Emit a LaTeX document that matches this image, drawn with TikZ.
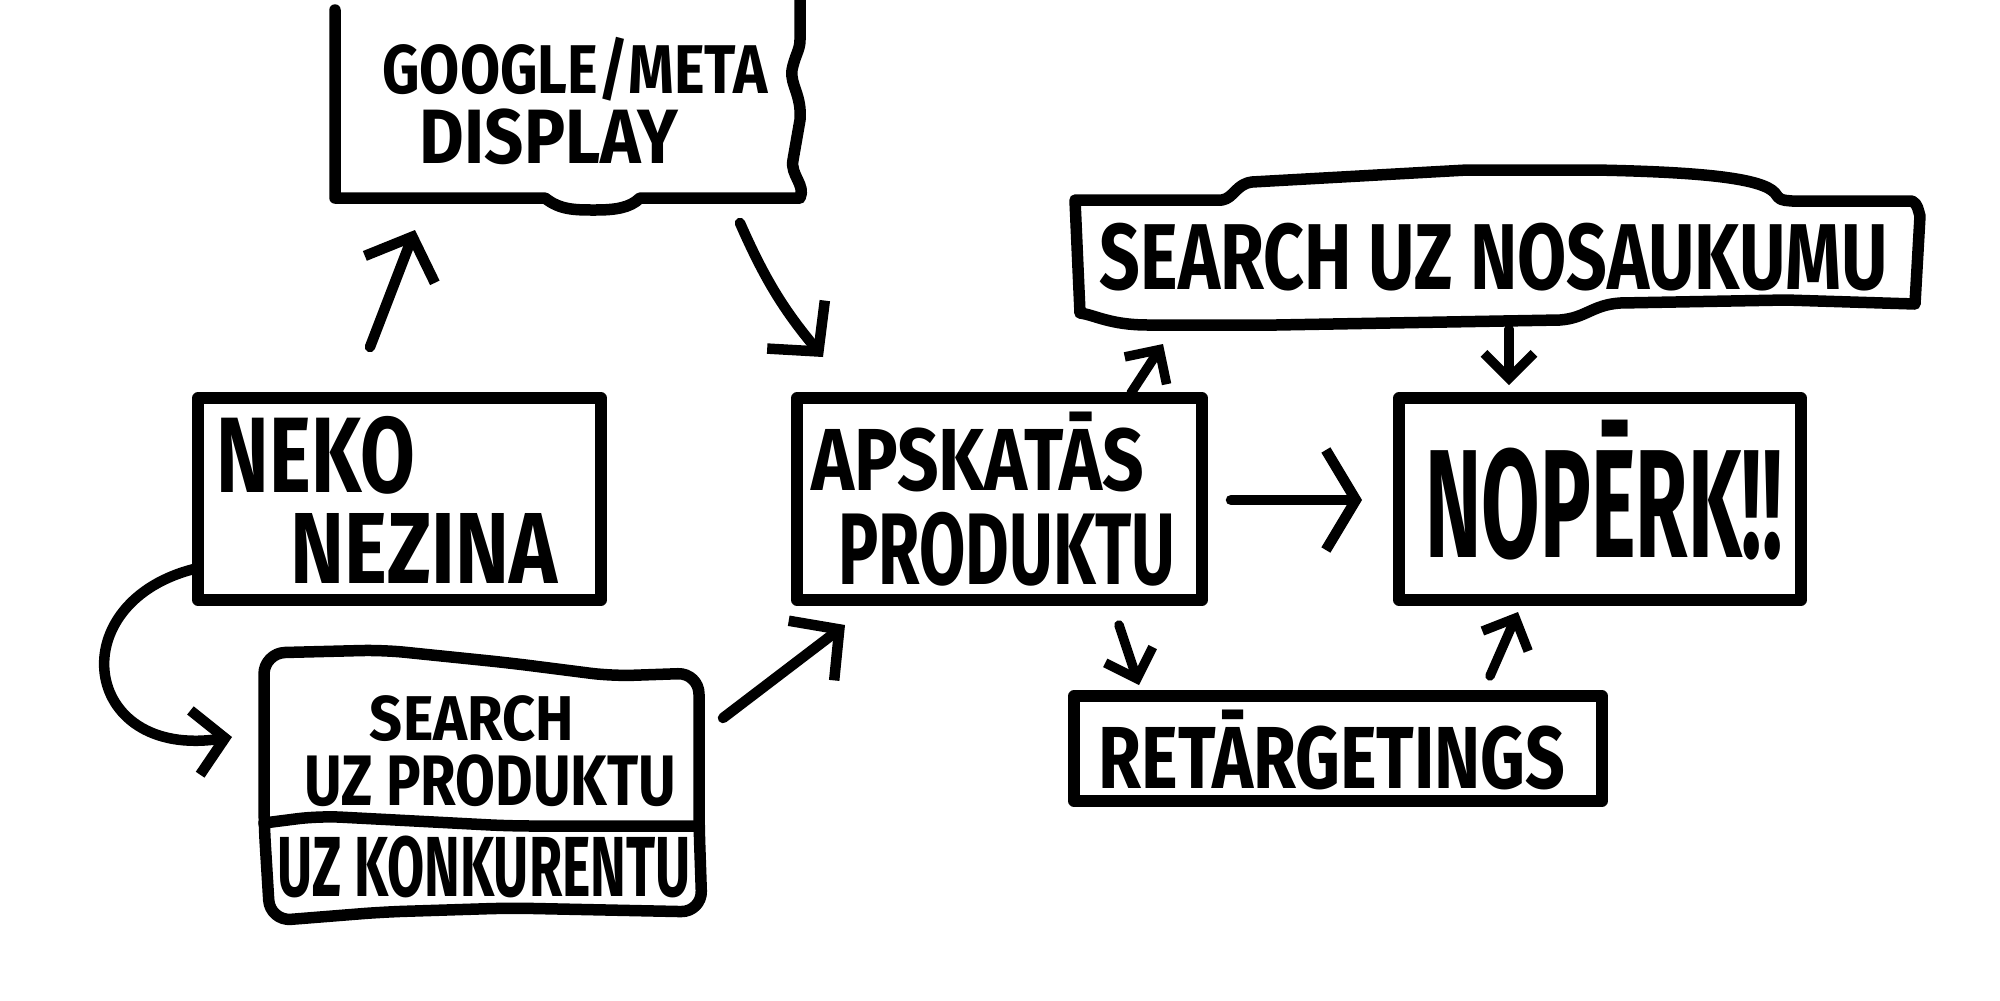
\documentclass[tikz,border=0pt]{standalone}
\usepackage{fontspec}
\setmainfont{Fira Sans}
\usepackage{graphicx}
\usetikzlibrary{arrows.meta}
\newlength\pxu
\setlength\pxu{0.1mm}
\newcommand{\hw}[3]{\resizebox*{#1\pxu}{#2\pxu}{\bfseries #3}}
\begin{document}
\begin{tikzpicture}[x=0.1mm,y=-0.1mm, line cap=round, line join=round,
  ln/.style={line width=1.15mm},
  box/.style={draw, line width=1.15mm, inner sep=0pt, outer sep=0pt, anchor=north west},
  lbl/.style={inner sep=0pt, anchor=center},
  arr/.style={line width=1.05mm, -{Straight Barb[length=3.5mm,width=7.5mm]}},
  sarr/.style={line width=0.95mm, -{Straight Barb[length=2.5mm,width=5mm]}}]
\fill[white] (0,0) rectangle (2000,1000);
\useasboundingbox (0,0) rectangle (2000,1000);

% Google/Meta display (open-top box)
\draw[ln] (335,10) -- (335,198) -- (545,198) .. controls (560,210) and (575,210) .. (595,210) .. controls (615,210) and (630,208) .. (640,198) -- (800,198)
  .. controls (806,185) and (790,175) .. (793,160) -- (800,120) .. controls (802,95) and (790,85) .. (792,70) .. controls (795,55) and (800,50) .. (800,40) -- (800,0);
\node[lbl] (g1) at (575,69) {\hw{385}{64}{GOOGLE/META}};
\node[lbl] (g2) at (549,137) {\hw{258}{56}{DISPLAY}};

% Search uz nosaukumu (wavy box)
\draw[ln] (1075,200) -- (1222,200) .. controls (1234,198) and (1236,184) .. (1252,182) -- (1467,170) -- (1595,170)
  .. controls (1700,172) and (1762,178) .. (1775,193) .. controls (1780,200) .. (1792,201) -- (1912,201)
  .. controls (1918,204) and (1918,210) .. (1920,216) -- (1915,304) -- (1786,300) -- (1620,303)
  .. controls (1592,305) and (1586,318) .. (1560,320) -- (1276,325) -- (1148,325)
  .. controls (1110,325) and (1095,315) .. (1080,313) -- cycle;
\node[lbl] (sn) at (1494,257) {\hw{788}{68}{SEARCH UZ NOSAUKUMU}};

% rectangular boxes
\node[box, minimum width=40.3mm, minimum height=20.2mm] (nekobox) at (198,398) {};
\node[lbl] (neko1) at (316,455) {\hw{198}{78}{NEKO}};
\node[lbl] (neko2) at (424,548) {\hw{266}{70}{NEZINA}};

\node[box, minimum width=40.5mm, minimum height=20.2mm] (apsbox) at (797,398) {};
\node[lbl] (aps1) at (978,452) {\hw{333}{80}{APSKATĀS}};
\node[lbl] (aps2) at (1007,549) {\hw{337}{74}{PRODUKTU}};

\node[box, minimum width=40.2mm, minimum height=20.2mm] (nopbox) at (1399,398) {};
\node[lbl] (nop) at (1604,490) {\hw{357}{140}{NOPĒRK!!}};

\node[box, minimum width=52.8mm, minimum height=10.5mm] (retbox) at (1074,696) {};
\node[lbl] (ret) at (1332,750) {\hw{467}{80}{RETĀRGETINGS}};

% Search uz produktu / uz konkurentu
\draw[ln, rounded corners=6] (264,653) -- (383,650) -- (510,663) -- (612,676) -- (699,673) -- (699,823) -- (702,912)
  -- (510,908) -- (383,912) -- (270,921) -- (264,823) -- cycle;
\draw[ln, rounded corners=6] (264,823) -- (319,816) -- (510,826) -- (699,826);
\node[lbl] (s1) at (472,719) {\hw{204}{46}{SEARCH}};
\node[lbl] (s2) at (490,781) {\hw{372}{52}{UZ PRODUKTU}};
\node[lbl] (s3) at (484,867) {\hw{413}{62}{UZ KONKURENTU}};

% connector end points
\coordinate (a1) at (370,347); \coordinate (a2) at (415,230);
\coordinate (b1) at (740,223); \coordinate (b2) at (823,357);
\coordinate (c1) at (1131,393); \coordinate (c2) at (1163,344);
\coordinate (d1) at (1509,329); \coordinate (d2) at (1509,385);
\coordinate (e1) at (1231,500); \coordinate (e2) at (1362,500);
\coordinate (f1) at (1119,625); \coordinate (f2) at (1139,685);
\coordinate (h1) at (1490,676); \coordinate (h2) at (1518,612);
\coordinate (k1) at (723,718); \coordinate (k2) at (845,625);
\coordinate (m1) at (198,568); \coordinate (m2) at (232,737);

\draw[arr] (a1) -- (a2);
\draw[arr] (b1) to[bend right=8] (b2);
\draw[sarr] (c1) -- (c2);
\draw[sarr] (d1) -- (d2);
\draw[line width=1.05mm, -{Straight Barb[length=3mm,width=10mm]}] (e1) -- (e2);
\draw[sarr] (f1) -- (f2);
\draw[sarr] (h1) -- (h2);
\draw[arr] (k1) -- (k2);
\draw[line width=1.05mm, -{Straight Barb[length=3mm,width=6.5mm]}] (m1) .. controls (60,600) and (80,760) .. (m2);
\end{tikzpicture}
\end{document}
